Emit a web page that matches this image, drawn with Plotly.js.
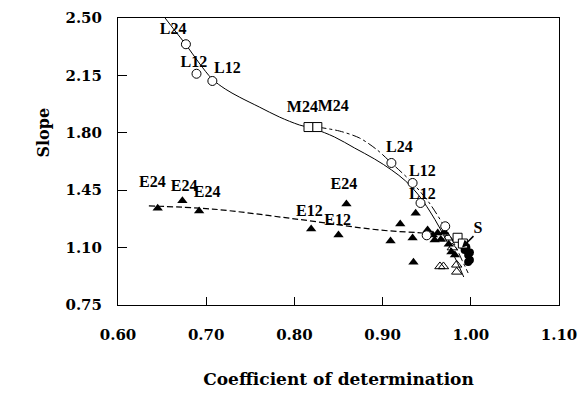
<!DOCTYPE html>
<html>
<head>
<meta charset="utf-8">
<script src="https://cdn.plot.ly/plotly-3.0.1.min.js"></script>
<style>html,body{margin:0;padding:0;background:#fff;}#chart{width:581px;height:393px;}</style>
</head>
<body>
<div id="chart"></div>
<script>
// ---- data ----
// open circles (L series)
const circX = [0.677, 0.689, 0.707, 0.910, 0.934, 0.943, 0.950, 0.971];
const circY = [2.340, 2.160, 2.116, 1.616, 1.494, 1.372, 1.175, 1.230];
// open squares (M series)
const sqX = [0.816, 0.826, 0.985, 0.991];
const sqY = [1.835, 1.835, 1.160, 1.125];
// open triangles
const otriX = [0.965, 0.969, 0.984, 0.984, 0.974, 0.979];
const otriY = [0.985, 0.985, 0.995, 0.952, 1.160, 1.100];
// filled triangles (E series and others)
const ftriX = [0.645, 0.673, 0.692, 0.819, 0.850, 0.859, 0.909, 0.920, 0.9375, 0.934, 0.935, 0.951, 0.957, 0.959, 0.9625, 0.970, 0.966, 0.975, 0.978, 0.982];
const ftriY = [1.340, 1.385, 1.323, 1.213, 1.177, 1.366, 1.140, 1.244, 1.310, 1.159, 1.010, 1.207, 1.177, 1.146, 1.189, 1.195, 1.150, 1.120, 1.073, 1.055];
// filled circles (S cluster)
const fcX = [0.991, 0.995, 0.993, 0.999, 0.997, 0.999, 0.997];
const fcY = [1.116, 1.100, 1.085, 1.070, 1.055, 1.024, 1.012];
// fitted curves
const solidX = [0.6534, 0.6648, 0.6773, 0.692, 0.7068, 0.7216, 0.7375, 0.7602, 0.783, 0.8057, 0.8227, 0.8455, 0.8682, 0.8909, 0.9102, 0.9261, 0.9398, 0.9534, 0.9648, 0.9761, 0.9875, 0.992];
const solidY = [2.500, 2.4207, 2.3354, 2.2256, 2.128, 2.0671, 2.0183, 1.9573, 1.8963, 1.8476, 1.8232, 1.7744, 1.7073, 1.6402, 1.5732, 1.5061, 1.4268, 1.3232, 1.2195, 1.1037, 0.9756, 0.9207];
const dashdotX = [0.826, 0.851, 0.874, 0.894, 0.910, 0.934, 0.953, 0.969, 0.982, 0.990, 0.997];
const dashdotY = [1.835, 1.811, 1.768, 1.695, 1.616, 1.494, 1.372, 1.238, 1.116, 1.024, 0.945];
const dashX = [0.635, 0.707, 0.802, 0.897, 0.945, 0.975];
const dashY = [1.354, 1.335, 1.274, 1.207, 1.189, 1.175];
// point labels
const labText = ["L24", "L12", "L12", "M24", "M24", "L24", "L12", "L12", "E24", "E24", "E24", "E12", "E12", "E24", "S"];
const labX = [0.6625, 0.686, 0.724, 0.809, 0.844, 0.919, 0.945, 0.945, 0.639, 0.675, 0.701, 0.817, 0.849, 0.856, 1.008];
const labY = [2.427, 2.226, 2.190, 1.951, 1.957, 1.707, 1.561, 1.420, 1.494, 1.470, 1.433, 1.317, 1.262, 1.482, 1.213];
// axis ticks
const xTicks = [0.60, 0.70, 0.80, 0.90, 1.00, 1.10];
const yTicks = [0.75, 1.10, 1.45, 1.80, 2.15, 2.50];

const serif = "Liberation Serif, Times New Roman, serif";
const tickFont = {family: "DejaVu Serif, serif", size: 15, color: "#000", weight: "bold"};

const traces = [
  {x: solidX, y: solidY, mode: "lines", line: {color: "#000", width: 1, shape: "spline", smoothing: 1}, hoverinfo: "skip"},
  {x: dashdotX, y: dashdotY, mode: "lines", line: {color: "#000", width: 1, dash: "dashdot", shape: "spline", smoothing: 0.8}, hoverinfo: "skip"},
  {x: dashX, y: dashY, mode: "lines", line: {color: "#000", width: 1.2, dash: "6px,3px", shape: "spline"}, hoverinfo: "skip"},
  {x: ftriX, y: ftriY, mode: "markers", marker: {symbol: "triangle-up", size: 9, color: "#000"}},
  {x: fcX, y: fcY, mode: "markers", marker: {symbol: "circle", size: 8, color: "#000"}},
  {x: otriX, y: otriY, mode: "markers", marker: {symbol: "triangle-up-open", size: 9, color: "#000", line: {width: 1, color: "#000"}}},
  {x: sqX, y: sqY, mode: "markers", marker: {symbol: "square", size: 9, color: "#fff", line: {width: 1, color: "#000"}}},
  {x: circX, y: circY, mode: "markers", marker: {symbol: "circle", size: 9, color: "#fff", line: {width: 1, color: "#000"}}},
  {x: labX, y: labY, mode: "text", text: labText.map(t => "<b>" + t + "</b>"), textfont: {family: serif, size: 16, color: "#000"}, hoverinfo: "skip"}
];

const layout = {
  width: 581, height: 393,
  margin: {l: 118, r: 22, t: 18, b: 88},
  paper_bgcolor: "#fff", plot_bgcolor: "#fff",
  showlegend: false,
  xaxis: {
    range: [0.60, 1.10], tickvals: xTicks, ticktext: xTicks.map(v => "<b>" + v.toFixed(2) + "</b>"),
    ticks: "inside", ticklen: 8, tickcolor: "#000", tickwidth: 1,
    showline: true, linecolor: "#000", linewidth: 1, mirror: true,
    showgrid: false, zeroline: false,
    tickfont: tickFont,
    ticklabelstandoff: 16,
    title: {text: "<b>Coefficient of determination</b>", font: {family: "DejaVu Serif, serif", size: 17, color: "#000"}, standoff: 30}
  },
  yaxis: {
    range: [0.75, 2.50], tickvals: yTicks, ticktext: yTicks.map(v => "<b>" + v.toFixed(2) + "</b>"),
    ticks: "inside", ticklen: 9, tickcolor: "#000", tickwidth: 1,
    showline: true, linecolor: "#000", linewidth: 1, mirror: true,
    showgrid: false, zeroline: false,
    tickfont: tickFont,
    ticklabelstandoff: 12
  },
  annotations: [
    {xref: "paper", yref: "paper", x: -0.195, y: 0.599, text: "<b>Slope</b>", showarrow: false, textangle: -90,
     font: {family: "DejaVu Serif, serif", size: 16, color: "#000"}},
    {x: 0.990, y: 1.100, xref: "x", yref: "y", text: "", showarrow: true, arrowhead: 2, arrowsize: 1, arrowwidth: 1.5,
     arrowcolor: "#000", ax: 13, ay: -13}
  ]
};

Plotly.newPlot("chart", traces, layout, {staticPlot: true, displayModeBar: false});
</script>
</body>
</html>
